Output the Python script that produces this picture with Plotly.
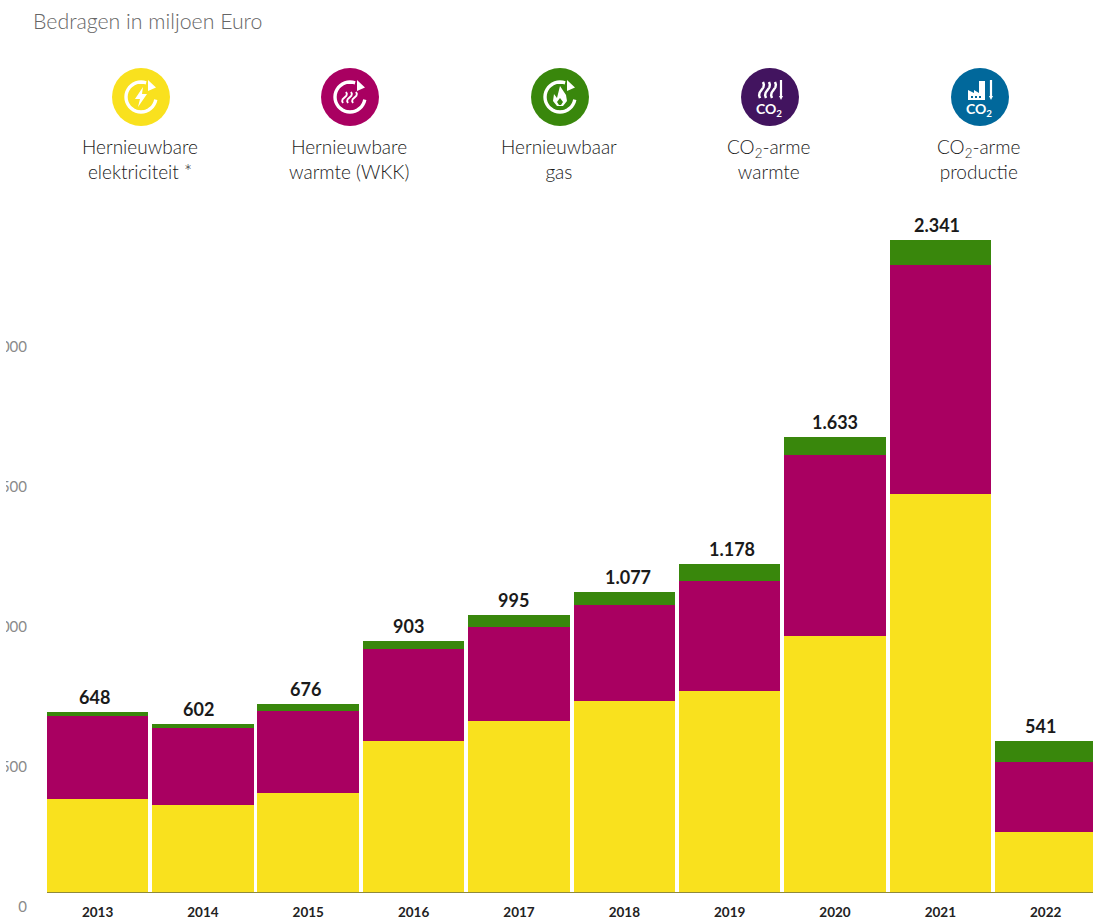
import math
import plotly.graph_objects as go

# ---------- data ----------
years = [2013, 2014, 2015, 2016, 2017, 2018, 2019, 2020, 2021, 2022]
elektriciteit = [334, 312, 355, 542, 614, 686, 722, 919, 1429, 215]
warmte = [298, 277, 295, 331, 337, 345, 395, 650, 822, 252]
gas = [16, 13, 26, 30, 44, 46, 61, 64, 90, 74]
totals = [648, 602, 676, 903, 995, 1077, 1178, 1633, 2341, 541]
total_labels = ["648", "602", "676", "903", "995", "1.077", "1.178", "1.633", "2.341", "541"]
y_tick_values = [0, 500, 1000, 1500, 2000]
y_tick_labels = ["0", "500", "1.000", "1.500", "2.000"]
legend_labels = [
    "Hernieuwbare<br>elektriciteit *",
    "Hernieuwbare<br>warmte (WKK)",
    "Hernieuwbaar<br>gas",
    "CO<sub>2</sub>-arme<br>warmte",
    "CO<sub>2</sub>-arme<br>productie",
]
YELLOW, MAGENTA, GREEN, PURPLE, BLUE = "#F9E11E", "#A90061", "#39870C", "#42145F", "#01689B"
legend_colors = [YELLOW, MAGENTA, GREEN, PURPLE, BLUE]
FONT = "Lato"

# ---------- page geometry (pixels) ----------
W, H = 1093, 920
L, B = 47, 907
px = lambda x: (x - L) / (W - L)
py = lambda y: (B - y) / B


def poly(points, close=False):
    d = "M" + " L".join(f"{px(x):.5f},{py(y):.5f}" for x, y in points)
    return d + (" Z" if close else "")


def path_shape(points, fill=None, line=None, width=0, close=False):
    return dict(
        type="path", xref="paper", yref="paper", layer="above",
        path=poly(points, close),
        fillcolor=fill if fill else "rgba(0,0,0,0)",
        line=dict(color=line if line else "rgba(0,0,0,0)", width=width),
    )


def circle(cx, cy, r, color):
    return dict(
        type="circle", xref="paper", yref="paper", layer="above",
        x0=px(cx - r), x1=px(cx + r), y0=py(cy + r), y1=py(cy - r),
        fillcolor=color, line=dict(width=0),
    )


def cycle_arrow(cx, cy):
    r = 15
    pts = []
    for a in range(10, 300, 10):  # clockwise from the right side round to the top
        t = math.radians(a)
        pts.append((cx + r * math.cos(t), cy + r * math.sin(t)))
    out = [path_shape(pts, line="white", width=3.4)]
    out.append(path_shape([(cx + 7, cy - 17), (cx + 15, cy - 9.5), (cx + 7, cy - 6)], fill="white", close=True))
    return out


def wave(x, y0, y1, slant=0.0):
    n = 6
    return [(x + 1.6 * math.sin(i / n * 2 * math.pi) - slant * i / n, y0 + (y1 - y0) * i / n) for i in range(n + 1)]


def thermo(cx, cy):
    return [
        path_shape([(cx + 11, cy - 17), (cx + 11, cy + 0)], line="white", width=2.2),
        path_shape([(cx + 9, cy - 1), (cx + 13, cy - 1), (cx + 11, cy + 3)], fill="white", close=True),
    ]


# ---------- icons ----------
centers = [141, 350, 560, 770, 980]
icon_y = 97
shapes = [dict(type="rect", xref="paper", yref="paper", layer="above",
               x0=px(0), x1=px(6), y0=py(330), y1=py(790),
               fillcolor="white", line=dict(width=0))]
for cx, col in zip(centers, legend_colors):
    shapes.append(circle(cx, icon_y, 29, col))
for cx in centers[:3]:
    shapes += cycle_arrow(cx, icon_y)
# bolt
c = centers[0]
shapes.append(path_shape([(c + 2, icon_y - 10), (c - 6, icon_y + 2), (c - 1, icon_y + 2), (c - 3, icon_y + 10),
                          (c + 6, icon_y - 3), (c + 1, icon_y - 3)], fill="white", close=True))
# heat
c = centers[1]
for dx in (-4, 1, 6):
    shapes.append(path_shape(wave(c + dx, icon_y - 5, icon_y + 6, slant=3), line="white", width=1.8))
# flame
c = centers[2]
shapes.append(path_shape([(c, icon_y - 11), (c + 6, icon_y - 2), (c + 7, icon_y + 4), (c + 3, icon_y + 9), (c - 3, icon_y + 9),
                          (c - 7, icon_y + 4), (c - 6, icon_y - 3), (c - 3, icon_y + 1)], fill="white", close=True))
shapes.append(path_shape([(c, icon_y + 1), (c + 3, icon_y + 5), (c + 1, icon_y + 8), (c - 1, icon_y + 8), (c - 3, icon_y + 5)],
                         fill=GREEN, close=True))
# CO2 warmte
c = centers[3]
for dx in (-7, -1, 5):
    shapes.append(path_shape(wave(c + dx, icon_y - 15, icon_y + 1, slant=3), line="white", width=2.4))
shapes += thermo(c, icon_y)
# CO2 productie
c = centers[4]
shapes.append(path_shape([(c - 12, icon_y + 3), (c - 12, icon_y - 7), (c - 6, icon_y - 4), (c - 6, icon_y - 7), (c - 1, icon_y - 4),
                          (c - 1, icon_y - 16), (c + 5, icon_y - 16), (c + 5, icon_y + 3)], fill="white", close=True))
for dx in (-9, -5, -1):
    shapes.append(path_shape([(c + dx, icon_y - 1), (c + dx + 2, icon_y - 1), (c + dx + 2, icon_y + 1), (c + dx, icon_y + 1)],
                             fill=BLUE, close=True))
shapes += thermo(c, icon_y)

# ---------- annotations ----------
annotations = [dict(xref="paper", yref="paper", x=px(31), y=py(21), xanchor="left", yanchor="middle",
                    text="Bedragen in miljoen Euro", showarrow=False,
                    font=dict(family=FONT, size=21.3, color="#666666", weight=300))]
for cx, label in zip(centers, legend_labels):
    annotations.append(dict(xref="paper", yref="paper", x=px(cx - 1), y=py(159), xanchor="center", yanchor="middle",
                            text=label, showarrow=False, align="center",
                            font=dict(family=FONT, size=19, color="#1a1a1a", weight=300)))
for cx in centers[3:]:
    annotations.append(dict(xref="paper", yref="paper", x=px(cx - 1), y=py(icon_y + 12.5), xanchor="center", yanchor="middle",
                            text="CO<sub>2</sub>", showarrow=False,
                            font=dict(family=FONT, size=14, color="white", weight=700)))
label_xshift = [-3, -4, -3, -5, -5, 4, 2, 0, -3, -5]
for yr, tot, txt, dx in zip(years, totals, total_labels, label_xshift):
    annotations.append(dict(xref="x", yref="y", x=yr, y=tot, xanchor="center", yanchor="bottom", yshift=2, xshift=dx,
                            text=txt, showarrow=False,
                            font=dict(family=FONT, size=18, color="#1a1a1a", weight=700)))

# ---------- figure ----------
fig = go.Figure()
# invisible carrier for the lowered value axis labels
fig.add_trace(go.Scatter(x=years, y=totals, mode="lines", line=dict(width=0), opacity=0,
                         showlegend=False, hoverinfo="skip", yaxis="y2"))
for name, vals, col in [("Hernieuwbare elektriciteit", elektriciteit, YELLOW),
                        ("Hernieuwbare warmte (WKK)", warmte, MAGENTA),
                        ("Hernieuwbaar gas", gas, GREEN)]:
    fig.add_trace(go.Bar(x=years, y=vals, name=name, marker=dict(color=col, line=dict(width=0)), yaxis="y"))

fig.update_layout(
    width=W, height=H, autosize=False,
    margin=dict(l=L, r=0, t=0, b=H - B, pad=0, autoexpand=False),
    paper_bgcolor="white", plot_bgcolor="rgba(0,0,0,0)",
    barmode="stack", bargap=0.036, showlegend=False,
    font=dict(family=FONT),
    shapes=shapes, annotations=annotations,
    xaxis=dict(range=[2012.52, 2022.449], tickmode="array", tickvals=years, ticktext=[str(v) for v in years],
               anchor="y", showgrid=False, zeroline=False, showline=True, linecolor="#8f8a3a", linewidth=1,
               automargin=False, ticks="outside", ticklen=8, tickcolor="rgba(0,0,0,0)",
               tickfont=dict(family=FONT, size=13.5, color="#222222", weight=700)),
    yaxis=dict(domain=[(B - 892) / B, 1], range=[0, 892 / 0.2785], showgrid=False, zeroline=False,
               automargin=False, showticklabels=False, ticks=""),
    yaxis2=dict(domain=[0, 892 / B], range=[0, 892 / 0.28], side="left", anchor="x",
                automargin=False, tickmode="array", tickvals=y_tick_values, ticktext=y_tick_labels,
                showgrid=False, zeroline=False, ticks="outside", ticklen=16, tickcolor="rgba(0,0,0,0)",
                tickfont=dict(family=FONT, size=15, color="#8a8a8a")),
)

fig.write_html("out.html", config={"displayModeBar": False}, post_script="document.body.style.margin='0';")
